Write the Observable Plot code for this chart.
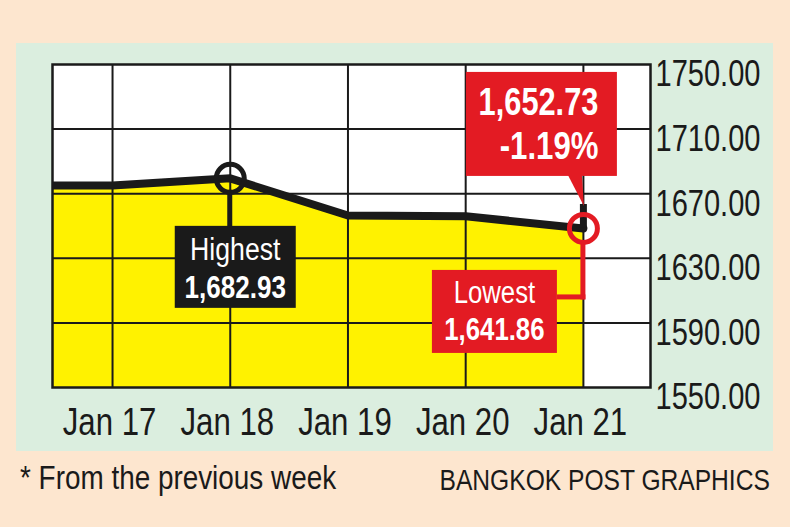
<!DOCTYPE html>
<html><head><meta charset="utf-8">
<script src="https://cdn.jsdelivr.net/npm/d3@7"></script>
<script src="https://cdn.jsdelivr.net/npm/@observablehq/plot@0.6"></script>
<style>
html,body{margin:0;padding:0;background:#fde6cf;}
#wrap{position:relative;width:790px;height:527px;overflow:hidden;font-family:'Liberation Sans',Arial,sans-serif;color:#1a1a1a;}
#panel{position:absolute;left:16px;top:43px;width:757px;height:408px;background:#dbeedf;}
#chart{position:absolute;left:0;top:0;}
#caption{position:absolute;left:0;top:455px;width:790px;height:72px;}
.note{position:absolute;left:20px;top:5px;font-size:34px;line-height:34px;white-space:nowrap;transform:scaleX(0.82);transform-origin:left center;}
.credit{position:absolute;right:20px;top:10px;font-size:30px;line-height:30px;white-space:nowrap;transform:scaleX(0.82);transform-origin:right center;}
</style></head>
<body>
<div id="wrap">
  <div id="panel"></div>
  <div id="chart"></div>
  <div id="caption"><span class="note">* From the previous week</span><span class="credit">BANGKOK POST GRAPHICS</span></div>
</div>
<script>
// ---- data ----
const days = [16, 17, 18, 19, 20, 21];          // 16 = previous week's close (runs off the left edge)
const closes = [1675.1, 1675.1, 1679.5, 1656.5, 1656.0, 1648.5];
const xTicks = [17, 18, 19, 20, 21];
const xTickLabels = ["Jan 17", "Jan 18", "Jan 19", "Jan 20", "Jan 21"];
const yTicks = [1550, 1590, 1630, 1670, 1710, 1750];
const yGrid = [1590, 1630, 1670, 1710];
const highLabel = ["Highest", "1,682.93"];
const lowLabel = ["Lowest", "1,641.86"];
const lastLabel = ["1,652.73", "-1.19%"];
const lastStubTop = 1663.3;

const data = days.map((d, i) => ({day: d, value: closes[i]}));
const high = data[2];
const last = data[5];

const FONT = "'Liberation Sans',Arial,sans-serif";
const RED = "#e31b23", INK = "#1a1a1a", YELLOW = "#fff200";

function box(d, {left, right, top, bottom, fill}) {
  return Plot.rect([d], {x1: "day", x2: "day", y1: "value", y2: "value",
    insetLeft: -left, insetRight: -right, insetTop: top, insetBottom: -bottom, fill});
}

const chart = Plot.plot({
  width: 790, height: 455,
  marginLeft: 52, marginRight: 140, marginTop: 64, marginBottom: 68,
  style: {background: "transparent", fontFamily: FONT, color: INK, overflow: "visible"},
  x: {domain: [16.49, 21.57], axis: null},
  y: {domain: [1550, 1750], axis: null},
  marks: [
    Plot.frame({fill: "white"}),
    Plot.areaY(data, {x: "day", y1: 1550, y2: "value", fill: YELLOW, clip: true}),
    Plot.ruleX(xTicks, {stroke: INK, strokeWidth: 2}),
    Plot.ruleY(yGrid, {stroke: INK, strokeWidth: 2}),
    Plot.frame({stroke: INK, strokeWidth: 2.5}),
    Plot.line(data, {x: "day", y: "value", stroke: INK, strokeWidth: 8, strokeLinejoin: "round", clip: true}),
    // x tick labels
    Plot.text(xTicks, {x: d => d, text: (d, i) => xTickLabels[i], frameAnchor: "bottom", lineAnchor: "top", dx: -3, dy: 21, fontSize: 38, fill: INK}),
    // y tick labels (right)
    Plot.text(yTicks, {y: d => d, text: d => d3.format(".2f")(d), frameAnchor: "right", textAnchor: "start", dx: 5, dy: 10, fontSize: 37, fill: INK}),
    // highest callout
    box(high, {left: 2.5, right: 2.5, top: 12, bottom: 50, fill: INK}),
    box(high, {left: 55, right: 66, top: 48, bottom: 130, fill: INK}),
    Plot.dot([high], {x: "day", y: "value", r: 14, stroke: INK, strokeWidth: 5, fill: "none"}),
    Plot.text([high], {x: "day", y: "value", text: () => highLabel[0], dx: 5, dy: 72, fontSize: 31, fill: "white"}),
    Plot.text([high], {x: "day", y: "value", text: () => highLabel[1], dx: 5, dy: 110, fontSize: 31, fontWeight: "bold", fill: "white"}),
    // latest stub
    Plot.ruleX([last], {x: "day", y1: "value", y2: () => lastStubTop, stroke: INK, strokeWidth: 7}),
    // lowest callout
    box(last, {left: 2.5, right: 2.5, top: 12, bottom: 71.5, fill: RED}),
    box(last, {left: 26, right: 2.5, top: 66.5, bottom: 71.5, fill: RED}),
    box(last, {left: 151, right: -26, top: 42, bottom: 125, fill: RED}),
    Plot.text([last], {x: "day", y: "value", text: () => lowLabel[0], dx: -89, dy: 65, fontSize: 31, fill: "white"}),
    Plot.text([last], {x: "day", y: "value", text: () => lowLabel[1], dx: -89, dy: 102, fontSize: 31, fontWeight: "bold", fill: "white"}),
    Plot.dot([last], {x: "day", y: "value", r: 14, stroke: RED, strokeWidth: 5, fill: "none"}),
    // latest value callout
    box(last, {left: 117, right: 34, top: -156, bottom: -52, fill: RED}),
    Plot.text([last], {x: "day", y: "value", text: () => lastLabel[0], dx: 15, dy: -126, textAnchor: "end", fontSize: 38, fontWeight: "bold", fill: "white"}),
    Plot.text([last], {x: "day", y: "value", text: () => lastLabel[1], dx: 15, dy: -82, textAnchor: "end", fontSize: 38, fontWeight: "bold", fill: "white"})
  ]
});

// pointer triangle from the red value box to the last point
const sx = chart.scale("x"), sy = chart.scale("y");
const px = sx.apply(last.day), py = sy.apply(last.value);
d3.select(chart).append("path")
  .attr("d", `M${px - 15},${py - 53}L${px - 1},${py - 53}L${px + 1},${py - 22}Z`)
  .attr("fill", RED);

document.getElementById("chart").appendChild(chart);

// condense the type (the original uses a narrow sans)
const factors = [0.82, 0.785, 0.86, 0.84, 0.83, 0.83, 0.81, 0.82];
d3.select(chart).selectAll('g[aria-label="text"]').each(function(_, gi) {
  const f = factors[gi] ?? 0.82;
  d3.select(this).selectAll("text").each(function() {
    const w = this.getComputedTextLength();
    this.setAttribute("textLength", (w * f).toFixed(1));
    this.setAttribute("lengthAdjust", "spacingAndGlyphs");
  });
});
</script>
</body></html>
